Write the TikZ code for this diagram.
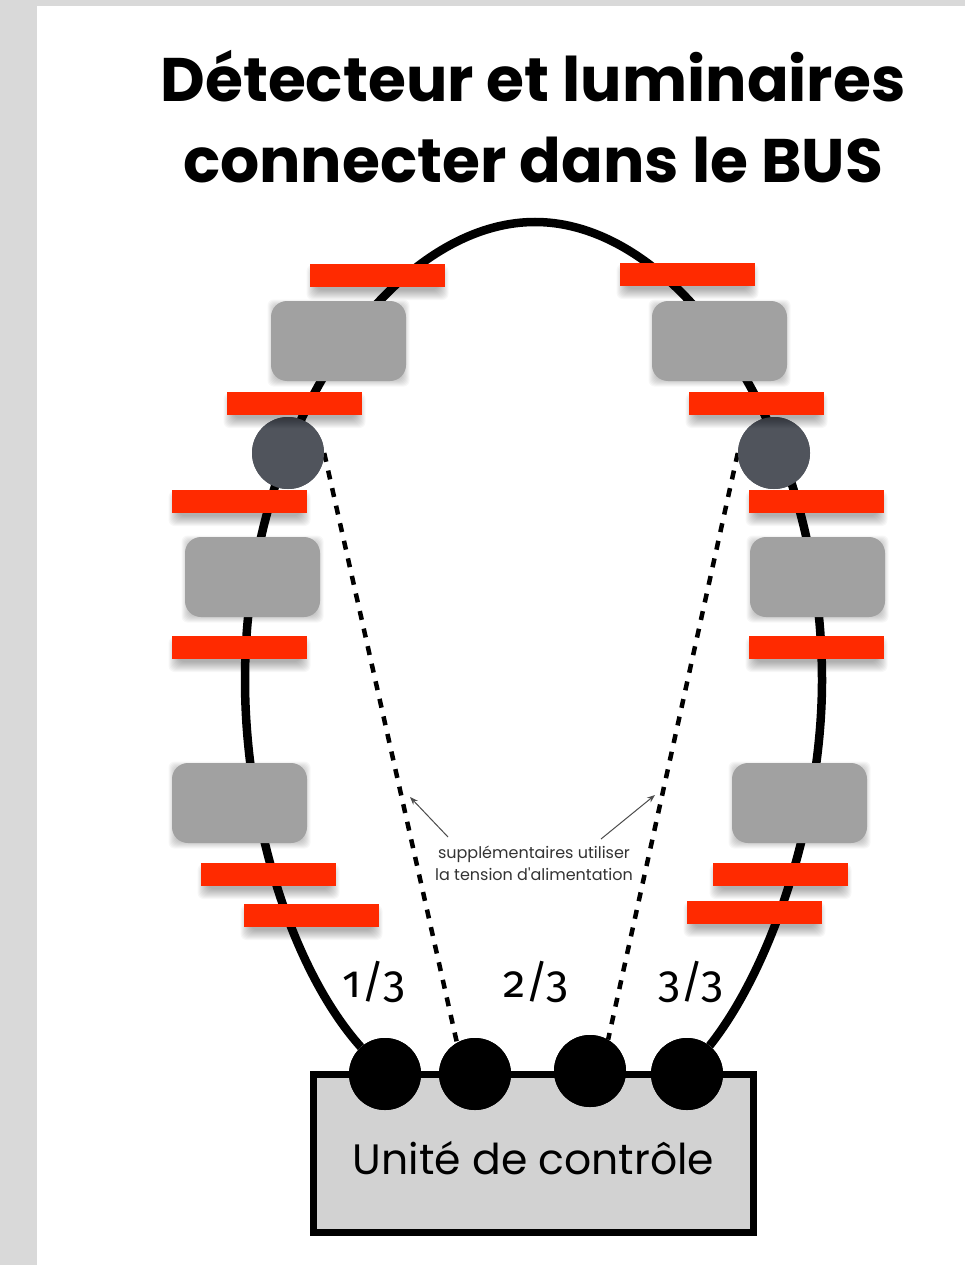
\documentclass[tikz,border=0pt]{standalone}
\usepackage{fontspec}
\usepackage{xcolor}
\usepackage{tikz}
\usetikzlibrary{arrows.meta}
\setmainfont{Poppins}
\newfontfamily\ratiofont[Numbers=OldStyle]{Fira Sans}
\definecolor{barRed}{HTML}{FF2A00}
\definecolor{lumGray}{HTML}{A1A1A1}
\definecolor{detGray}{HTML}{50545C}
\definecolor{unitGray}{HTML}{D2D2D2}
\definecolor{pageGray}{HTML}{D9D9D9}
% soft shadow: centre x, centre y, half width, half height, drop
\newcommand\softshadow[5]{
  \foreach \s in {-4,-3,...,6} {
    \fill[black, opacity=.03, rounded corners=6pt]
      (#1-#3-\s,#2-#4-\s+#5) rectangle (#1+#3+\s,#2+#4+\s+#5);
  }
}
\tikzset{
  barbox/.style={fill=barRed, minimum width=135pt, minimum height=23pt, inner sep=0pt},
  lumbox/.style={fill=lumGray, rounded corners=16pt, minimum width=135pt, minimum height=80pt, inner sep=0pt},
  detdot/.style={circle, fill=detGray, minimum size=72pt, inner sep=0pt},
  busdot/.style={circle, fill=black, minimum size=72pt, inner sep=0pt},
  ratio/.style={font=\ratiofont\fontsize{45}{47}\selectfont},
  wire/.style={line width=4.5pt, dash pattern=on 9pt off 9pt},
  hint/.style={draw=black!70, line width=1pt, -{Stealth[length=8pt,width=6pt]}},
}
\begin{document}
\begin{tikzpicture}[x=1pt, y=-1pt]
  % Page
  \fill[pageGray] (0,0) rectangle (965,1265);
  \fill[white] (37,6) rectangle (965,1265);
  \useasboundingbox (0,0) rectangle (965,1265);

  % Title
  \node[align=center, font=\bfseries\fontsize{61.5}{81}\selectfont] (title) at (533,117)
    {Détecteur et luminaires\\connecter dans le BUS};

  % Control unit and bus points
  \node[draw=black, line width=7pt, fill=unitGray, minimum width=440pt, minimum height=158pt, inner sep=0pt] (unit) at (533.5,1153.5) {};
  \node[font=\fontsize{42.5}{45}\selectfont] (unitname) at (533.5,1158) {Unité de contrôle};
  \foreach \name/\x/\y in {p1/385/1074, p2/475/1074, p3/590/1071, p4/687/1074} {
    \node[busdot] (\name) at (\x,\y) {};
  }

  % Detectors
  \node[detdot] (detL) at (288,453) {};
  \node[detdot] (detR) at (774,453) {};

  % Bus
  \coordinate (top) at (535,222);
  \draw[line width=8.5pt] (p1) .. controls (292,970) and (245,820) .. (245,680)
    .. controls (245,430) and (390,222) .. (top)
    .. controls (680,222) and (822,430) .. (822,680)
    .. controls (822,820) and (770,970) .. (p4);

  % Supply wires
  \draw[wire] (detL.east) -- (p2.120);
  \draw[wire] (detR.west) -- (p3.60);

  % Redraw on top of the bus
  \node[detdot] at (detL) {};
  \node[detdot] at (detR) {};
  \foreach \name in {p1,p2,p3,p4} {
    \node[busdot] at (\name) {};
  }

  % Luminaires
  \foreach \name/\x/\y in {lumA/338.5/341, lumB/252.5/577, lumC/239.5/803, lumD/719.5/341, lumE/817.5/577, lumF/799.5/803} {
    \softshadow{\x}{\y}{65}{37.5}{2}
    \node[lumbox] (\name) at (\x,\y) {};
  }

  % Red bars
  \foreach \name/\x/\y in {barA/377.5/275.5, barB/294.5/403.5, barC/239.5/501.5, barD/239.5/647.5, barE/268.5/874.5, barF/311.5/915.5,
                           barG/687.5/274.5, barH/756.5/403.5, barI/816.5/501.5, barJ/816.5/647.5, barK/780.5/874.5, barL/754.5/912.5} {
    \softshadow{\x}{\y}{65}{11.5}{7}
    \node[barbox] (\name) at (\x,\y) {};
  }

  % Ratios
  \node[ratio] (ratioA) at (374,982) {1/3};
  \node[ratio] (ratioB) at (536,982) {2/3};
  \node[ratio] (ratioC) at (691,982) {3/3};

  % Note
  \node[align=center, text=black!80, font=\fontsize{16}{22}\selectfont] (note) at (534,863)
    {supplémentaires utiliser\\la tension d\textquotesingle alimentation};
  \coordinate (noteL) at (448,837);
  \coordinate (noteR) at (601,839);
  \coordinate (wireL) at (410,797);
  \coordinate (wireR) at (655,795);
  \draw[hint] (noteL) -- (wireL);
  \draw[hint] (noteR) -- (wireR);
\end{tikzpicture}
\end{document}
